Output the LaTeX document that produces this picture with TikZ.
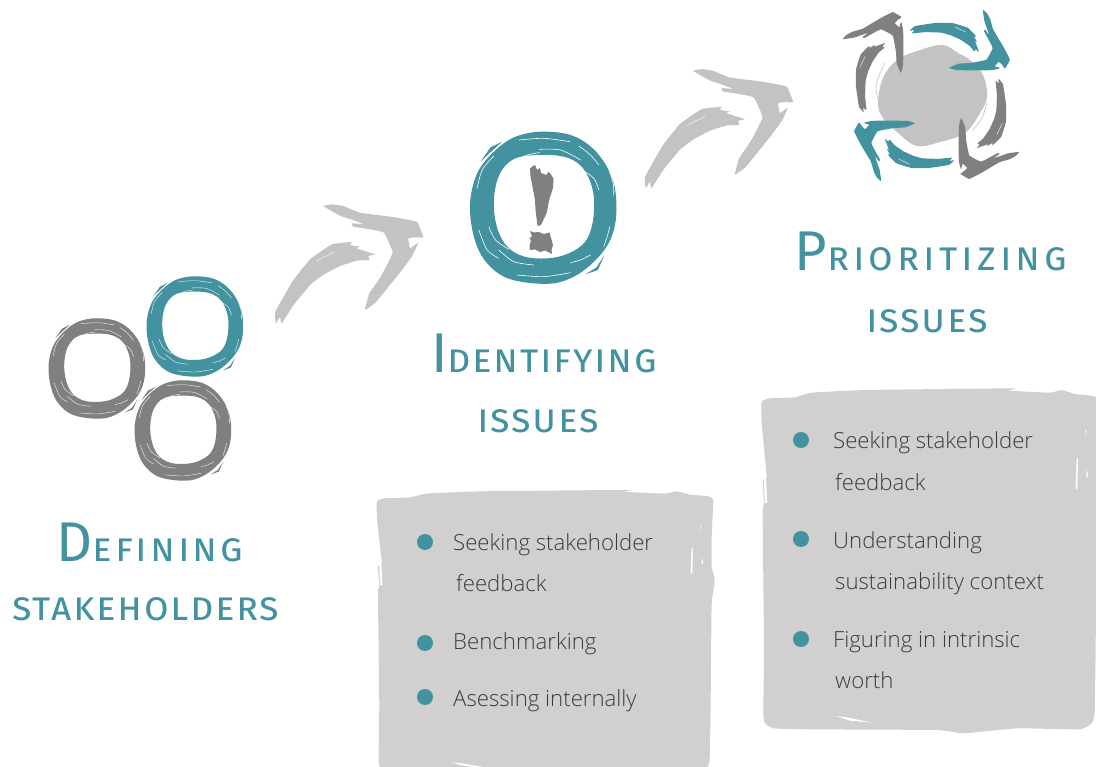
\documentclass[tikz,border=0pt]{standalone}
\usepackage{fontspec}
\newfontfamily\bodyfont{Open Sans Light}
\newfontfamily\headfont[LetterSpace=4]{Fira Sans}
\usepackage{xcolor}
\definecolor{brushteal}{HTML}{43929F}
\definecolor{brushgray}{HTML}{808080}
\definecolor{paleblob}{HTML}{C3C3C3}
\definecolor{boxgray}{HTML}{D1CFD0}
\definecolor{itemtext}{HTML}{3C3C3C}
\newcommand{\inicap}[1]{{\fontsize{56}{56}\selectfont #1}}

\tikzset{
    ringmark/.style={white,line width=.6pt},
    % ring with brush marks, drawn around its centre
    pics/brushring/.style={code={
        \begin{scope}[shift={(-849,-261)}]
        \fill[#1,even odd rule]
            plot[smooth cycle,tension=.6] coordinates {(800,40)(860,35)(930,45)(985,75)(1030,125)(1060,190)(1068,265)(1060,330)(1035,385)(990,435)(940,470)(880,490)(800,488)(730,470)(680,430)(650,380)(632,310)(630,235)(650,160)(690,105)(745,60)}
            plot[smooth cycle,tension=.6] coordinates {(765,115)(825,105)(900,108)(950,128)(982,168)(1000,230)(996,310)(972,368)(920,402)(860,415)(792,410)(742,382)(712,330)(700,260)(707,192)(728,145)};
        \fill[#1] (725,65) -- (690,82) -- (660,125) -- (695,92) -- cycle;
        \fill[#1] (1032,405) -- (1008,442) -- (975,463) -- (1012,450) -- cycle;
        \foreach \marks in {
            {(700,108)(665,150)(650,205)},{(745,130)(800,105)(838,98)},{(775,60)(850,55)(928,65)},
            {(835,88)(900,90)(960,120)},{(955,78)(990,105)(1015,135)},{(965,150)(1000,175)(1015,210)},
            {(1045,150)(1058,190)(1060,230)},{(1048,320)(1040,350)(1030,380)},{(685,320)(705,360)(745,388)},
            {(655,330)(680,390)(715,415)},{(715,390)(760,425)(820,435)},{(770,465)(850,470)(930,458)},
            {(930,428)(960,420)(990,405)}}
            \draw[ringmark] plot[smooth] coordinates \marks;
        \end{scope}
    }},
    % bent brush arrow, origin at the outer end of its head
    pics/brusharrow/.style={code={
        \begin{scope}[shift={(-488,-350)}]
        \fill[#1] plot[smooth cycle,tension=.2] coordinates {(190,258)(218,253)(250,258)(300,278)(400,291)(470,305)(482,330)(490,352)(465,352)(445,355)(450,385)(474,368)(458,405)(424,452)(384,502)(347,547)(315,570)(328,520)(362,470)(398,398)(372,338)(330,328)(280,320)(275,310)(310,312)(270,297)(240,287)};
        \fill[#1] plot[smooth cycle,tension=.2] coordinates {(48,610)(46,575)(98,483)(150,418)(215,373)(275,366)(270,375)(300,380)(290,385)(345,403)(325,408)(328,420)(290,422)(240,438)(192,463)(152,493)(102,553)(65,610)(60,590)};
        \draw[white,line width=.4pt] (170,422) -- (225,395);
        \end{scope}
    }},
    % rough panel behind the lists
    pics/roughpanel/.style={code={
        \fill[boxgray] plot[smooth cycle,tension=.2] coordinates {(35,65)(60,55)(135,52)(185,38)(350,30)(790,25)(775,32)(900,38)(935,30)(975,42)(1030,48)(1045,62)(1040,200)(1040,300)(1048,340)(1048,370)(1040,440)(1037,800)(1034,1000)(1025,1030)(990,1048)(800,1045)(640,1060)(560,1050)(170,1048)(70,1045)(45,1030)(40,1000)(42,800)(38,400)(42,370)(38,300)(50,290)(35,130)};
        \fill[white] (42,295) -- (48,290) -- (52,370) -- (44,368) -- cycle;
        \fill[white] (980,235) -- (984,235) -- (982,330) -- (977,325) -- cycle;
        \fill[white] (1006,150) -- (1009,150) -- (1008,175) -- cycle;
        \fill[white] (1010,270) -- (1015,285) -- (1010,295) -- cycle;
        \fill[white] (258,1008) -- (290,1012) -- (368,1028) -- (300,1022) -- cycle;
    }},
    heading/.style={anchor=base,inner sep=0pt,text=brushteal,font=\headfont\scshape\fontsize{40}{40}\selectfont},
    itemline/.style={anchor=base west,inner sep=0pt,text=itemtext,font=\bodyfont\fontsize{22.2}{22.2}\selectfont},
    itemdot/.style={shape=circle,fill=brushteal,minimum size=16pt,inner sep=0pt}
}

\begin{document}
\begin{tikzpicture}[x=1pt,y=-1pt]
\path[use as bounding box,clip] (0,0) rectangle (1096,767);

% the three rings on the left
\pic[scale=.22,ringmark/.style={white,line width=.35pt}] at (97,368) {brushring=brushgray};
\pic[scale=.22,ringmark/.style={white,line width=.35pt}] at (195,326) {brushring=brushteal};
\pic[scale=.22,ringmark/.style={white,line width=.35pt}] at (183,430) {brushring=brushgray};

% ring with the exclamation mark
\pic[scale=1/3] at (543.5,207) {brushring=brushteal};
\fill[brushgray] (530,168.5) -- (533,166) -- (535,165) -- (537,170) -- (540,168) -- (541,173) -- (546.5,175) -- (548,172) -- (550,173) -- (553.5,178.5) -- (553,188) -- (550,197) -- (548.5,203) -- (547,212) -- (545,216.5) -- (541,225) -- (537.5,226) -- (535.5,210) -- (535,200) -- (532.5,186.5) -- (530.5,176.5) -- cycle;
\fill[brushgray] (530,231) -- (534,232.5) -- (538.5,232) -- (544,234) -- (549.5,232.5) -- (551,238) -- (553,245) -- (551.5,250) -- (552,254) -- (545,250.5) -- (540,252) -- (535,249.5) -- (530,250) -- (529.5,245) -- (531,241) -- (529.5,238) -- (532,236.5) -- cycle;

% arrows between the steps
\pic[scale=1/3] at (422.7,236.7) {brusharrow=paleblob};
\pic[scale=1/3] at (792.5,101.5) {brusharrow=paleblob};

% the cycle at the top
\fill[paleblob] plot[smooth cycle,tension=.6] coordinates {(943,45)(958,53)(970,60)(983,75)(987,97)(980,113)(965,133)(940,142)(917,146)(898,133)(883,118)(878,103)(883,78)(897,60)(920,50)};
\draw[paleblob,line width=.6pt] plot[smooth] coordinates {(885,63)(876,85)(880,107)};
\draw[paleblob,line width=.6pt] plot[smooth] coordinates {(987,103)(982,118)(973,130)};
\pic[scale=.2,rotate=38] at (901,17) {brusharrow=brushgray};
\pic[scale=.2,rotate=-52] at (1005,68) {brusharrow=brushteal};
\pic[scale=.2,rotate=-142] at (961,174) {brusharrow=brushgray};
\pic[scale=.2,rotate=128] at (859,123) {brusharrow=brushteal};

% headings
\node[heading] (defining) at (150,561) {\addfontfeature{LetterSpace=7}\inicap{D}efining};
\node[heading] (stakeholders) at (146,620) {stakeholders};
\node[heading] (identifying) at (544,373) {\inicap{I}dentifying};
\node[heading] (issuesA) at (538,433) {issues};
\node[heading] (prioritizing) at (931,271) {\addfontfeature{LetterSpace=10}\inicap{P}rioritizing};
\node[heading] (issuesB) at (927,333) {issues};

% panels
\pic[xscale=.333,yscale=.277] at (365.3,483) {roughpanel};
\pic[scale=1/3] at (750,380) {roughpanel};

% list in the middle
\node[itemdot] (dotA) at (425,542) {};
\node[itemline] (seekA) at (453,550) {Seeking stakeholder};
\node[itemline] (feedA) at (456,591) {feedback};
\node[itemdot] (dotB) at (425,643) {};
\node[itemline] (bench) at (453,649) {Benchmarking};
\node[itemdot] (dotC) at (425,697) {};
\node[itemline] (asess) at (453,706) {Asessing internally};

% list on the right
\node[itemdot] (dotD) at (801,440) {};
\node[itemline] (seekB) at (833,449) {Seeking stakeholder};
\node[itemline] (feedB) at (835,490) {feedback};
\node[itemdot] (dotE) at (801,539) {};
\node[itemline] (under) at (833,548) {Understanding};
\node[itemline] (context) at (835,589) {sustainability context};
\node[itemdot] (dotF) at (801,639) {};
\node[itemline] (figur) at (833,647) {Figuring in intrinsic};
\node[itemline] (worth) at (835,688) {worth};
\end{tikzpicture}
\end{document}
